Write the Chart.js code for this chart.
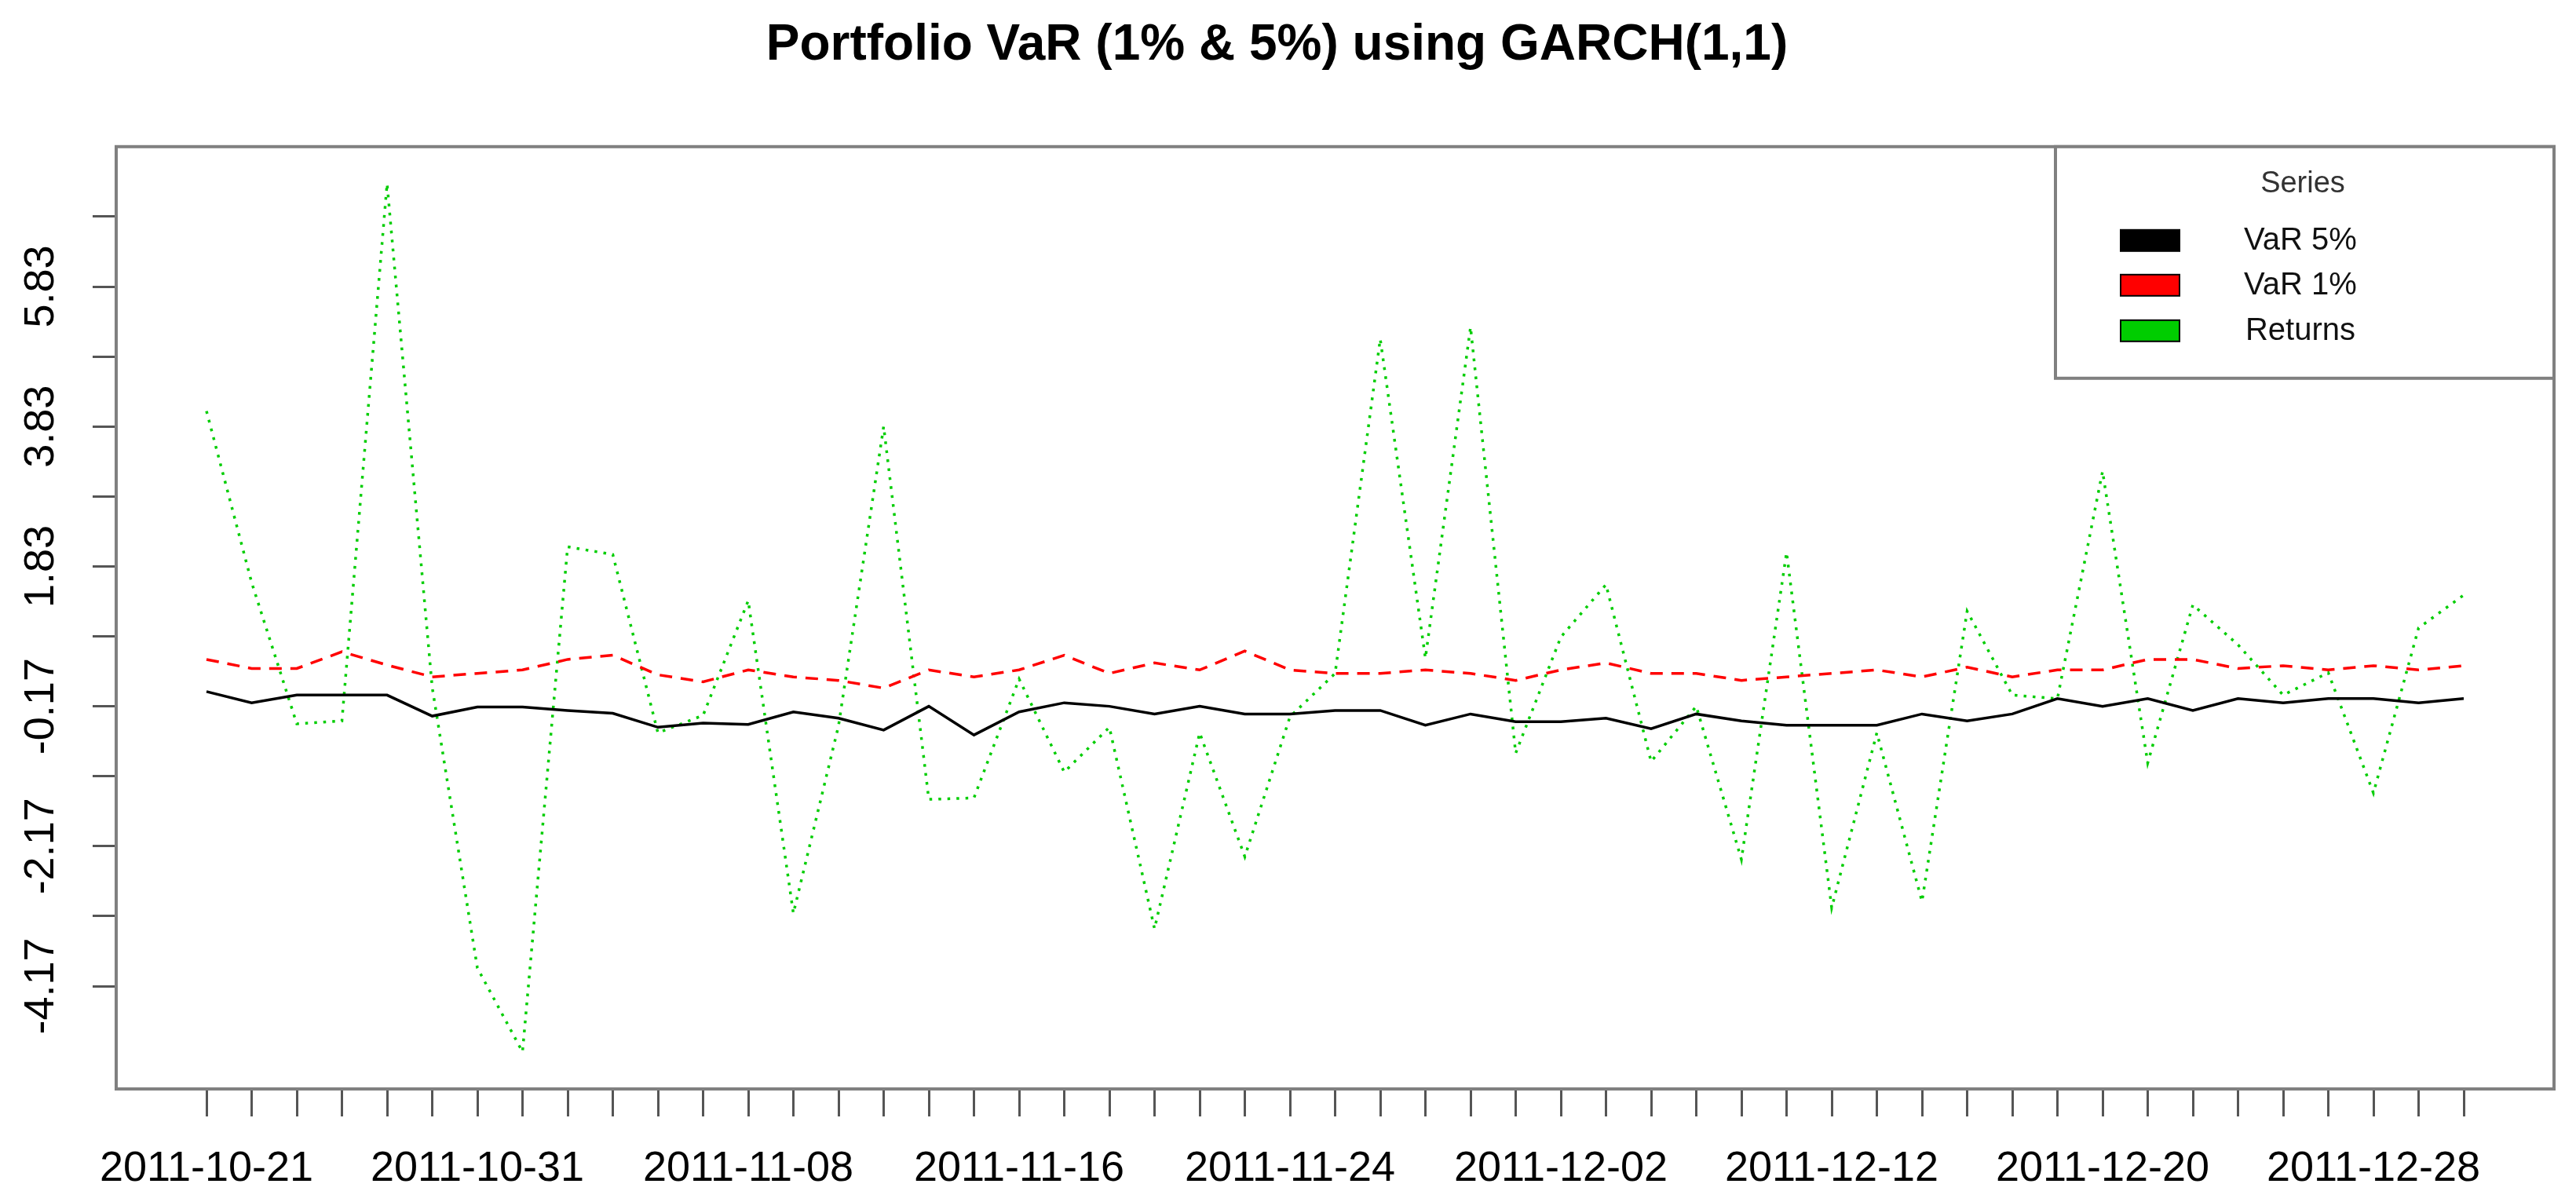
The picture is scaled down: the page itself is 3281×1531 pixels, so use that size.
<!DOCTYPE html>
<html>
<head>
<meta charset="utf-8">
<script src="https://cdn.jsdelivr.net/npm/chart.js@4.4.1/dist/chart.umd.min.js"></script>
<style>
html,body{margin:0;padding:0;background:#ffffff;overflow:hidden}
#c{display:block}
</style>
</head>
<body>
<canvas id="c" width="3281" height="1531" style="width:3281px;height:1531px"></canvas>
<script>
const dates = [
  "2011-10-21","2011-10-24","2011-10-25","2011-10-26","2011-10-27","2011-10-28",
  "2011-10-31","2011-11-01","2011-11-02","2011-11-03","2011-11-04","2011-11-07",
  "2011-11-08","2011-11-09","2011-11-10","2011-11-11","2011-11-14","2011-11-15",
  "2011-11-16","2011-11-17","2011-11-18","2011-11-21","2011-11-22","2011-11-23",
  "2011-11-24","2011-11-25","2011-11-28","2011-11-29","2011-11-30","2011-12-01",
  "2011-12-02","2011-12-05","2011-12-06","2011-12-07","2011-12-08","2011-12-09",
  "2011-12-12","2011-12-13","2011-12-14","2011-12-15","2011-12-16","2011-12-19",
  "2011-12-20","2011-12-21","2011-12-22","2011-12-23","2011-12-26","2011-12-27",
  "2011-12-28","2011-12-29","2011-12-30"
];
const labeledDates = ["2011-10-21","2011-10-31","2011-11-08","2011-11-16","2011-11-24",
  "2011-12-02","2011-12-12","2011-12-20","2011-12-28"];

const var5 = [0.04,-0.12,-0.01,-0.01,-0.01,-0.31,-0.18,-0.18,-0.23,-0.27,
  -0.47,-0.41,-0.43,-0.25,-0.34,-0.51,-0.17,-0.58,-0.25,-0.12,
  -0.17,-0.28,-0.17,-0.28,-0.28,-0.23,-0.23,-0.44,-0.28,-0.39,
  -0.39,-0.34,-0.49,-0.28,-0.38,-0.44,-0.44,-0.44,-0.28,-0.38,
  -0.28,-0.06,-0.17,-0.06,-0.23,-0.06,-0.12,-0.06,-0.06,-0.12,-0.06];

const var1 = [0.50,0.37,0.37,0.61,0.42,0.25,0.30,0.35,0.50,0.56,
  0.28,0.18,0.35,0.25,0.20,0.09,0.35,0.25,0.35,0.56,
  0.30,0.45,0.35,0.62,0.35,0.30,0.30,0.35,0.30,0.20,
  0.35,0.45,0.30,0.30,0.20,0.25,0.30,0.35,0.25,0.39,
  0.25,0.35,0.35,0.50,0.50,0.37,0.41,0.35,0.41,0.35,0.41];

const returns = [4.05,1.60,-0.42,-0.38,7.30,0.10,-3.91,-5.11,2.11,2.00,
  -0.55,-0.30,1.34,-3.13,-0.45,3.83,-1.50,-1.48,0.22,-1.11,
  -0.47,-3.35,-0.55,-2.32,-0.32,0.30,5.08,0.52,5.25,-0.84,
  0.82,1.57,-0.96,-0.17,-2.36,2.03,-3.05,-0.55,-2.96,1.19,
  -0.01,-0.06,3.19,-0.98,1.28,0.71,-0.01,0.31,-1.41,0.95,1.42];

const yTicks = [-4.17,-3.17,-2.17,-1.17,-0.17,0.83,1.83,2.83,3.83,4.83,5.83,6.83];
const yLabeled = [-4.17,-2.17,-0.17,1.83,3.83,5.83];

const seriesNames = ["VaR 5%","VaR 1%","Returns"];
const seriesColors = ["#000000","#ff0000","#00cd00"];
const legendTitle = "Series";
const chartTitle = "Portfolio VaR (1% & 5%) using GARCH(1,1)";

const FONT = "'Liberation Sans', Arial, Helvetica, sans-serif";

const boxPlugin = {
  id: 'plotBox',
  afterDatasetsDraw(chart) {
    const {ctx, chartArea: a} = chart;
    ctx.save();
    ctx.strokeStyle = '#808080';
    ctx.lineWidth = 4;
    ctx.strokeRect(a.left, a.top, a.right - a.left, a.bottom - a.top);
    ctx.restore();
  }
};

const legendPlugin = {
  id: 'rLegend',
  afterDraw(chart) {
    const {ctx, chartArea: a} = chart;
    const right = a.right, top = a.top;
    const left = right - 635, bottom = top + 295;
    ctx.save();
    ctx.fillStyle = '#ffffff';
    ctx.fillRect(left, top, right - left, bottom - top);
    ctx.strokeStyle = '#808080';
    ctx.lineWidth = 4;
    ctx.strokeRect(left, top, right - left, bottom - top);
    ctx.fillStyle = '#333333';
    ctx.font = '38px ' + FONT;
    ctx.textAlign = 'center';
    ctx.textBaseline = 'middle';
    ctx.fillText(legendTitle, right - 320, top + 48);
    const rows = [119, 176, 234];
    chart.data.datasets.forEach((ds, i) => {
      const cy = top + rows[i];
      ctx.fillStyle = seriesColors[i];
      ctx.fillRect(right - 552, cy - 13, 75, 27);
      ctx.strokeStyle = '#000000';
      ctx.lineWidth = 2;
      ctx.strokeRect(right - 552, cy - 13, 75, 27);
      ctx.fillStyle = '#111111';
      ctx.font = '40px ' + FONT;
      ctx.fillText(ds.label, right - 323, cy + 1);
    });
    ctx.restore();
  }
};

const toXY = arr => arr.map((v, i) => ({x: i, y: v}));

new Chart(document.getElementById('c'), {
  type: 'line',
  data: {
    datasets: [
      {label: seriesNames[0], data: toXY(var5), borderColor: seriesColors[0], borderWidth: 3.5,
       pointRadius: 0, tension: 0, fill: false},
      {label: seriesNames[1], data: toXY(var1), borderColor: seriesColors[1], borderWidth: 3.5,
       borderDash: [16, 11], pointRadius: 0, tension: 0, fill: false},
      {label: seriesNames[2], data: toXY(returns), borderColor: seriesColors[2], borderWidth: 3.5,
       borderDash: [3.5, 8], pointRadius: 0, tension: 0, fill: false}
    ]
  },
  options: {
    responsive: false,
    animation: false,
    devicePixelRatio: 1,
    layout: {padding: {left: 0, right: 28, top: 0, bottom: 0}},
    plugins: {
      legend: {display: false},
      tooltip: {enabled: false},
      title: {
        display: true,
        text: chartTitle,
        color: '#000000',
        font: {family: FONT, size: 64, weight: 'bold'},
        padding: {top: 20, bottom: 90}
      }
    },
    scales: {
      x: {
        type: 'linear',
        min: -2,
        max: 52,
        afterBuildTicks: s => { s.ticks = dates.map((d, i) => ({value: i})); },
        afterFit: s => { s.height = 144; },
        ticks: {
          autoSkip: false, minRotation: 0, maxRotation: 0, padding: 35,
          color: '#000000', font: {family: FONT, size: 54},
          callback: v => labeledDates.includes(dates[v]) ? dates[v] : ''
        },
        grid: {drawOnChartArea: false, drawTicks: true, tickLength: 35, tickColor: '#555555', tickWidth: 3},
        border: {display: false}
      },
      y: {
        min: -5.64,
        max: 7.83,
        afterBuildTicks: s => { s.ticks = yTicks.map(v => ({value: v})); },
        afterFit: s => { s.width = 148; },
        ticks: {
          autoSkip: false, minRotation: 90, maxRotation: 90, crossAlign: 'center', padding: 3,
          color: '#000000', font: {family: FONT, size: 54},
          callback: v => yLabeled.includes(v) ? v.toFixed(2) : ''
        },
        grid: {drawOnChartArea: false, drawTicks: true, tickLength: 30, tickColor: '#555555', tickWidth: 3},
        border: {display: false}
      }
    }
  },
  plugins: [boxPlugin, legendPlugin]
});
</script>
</body>
</html>
